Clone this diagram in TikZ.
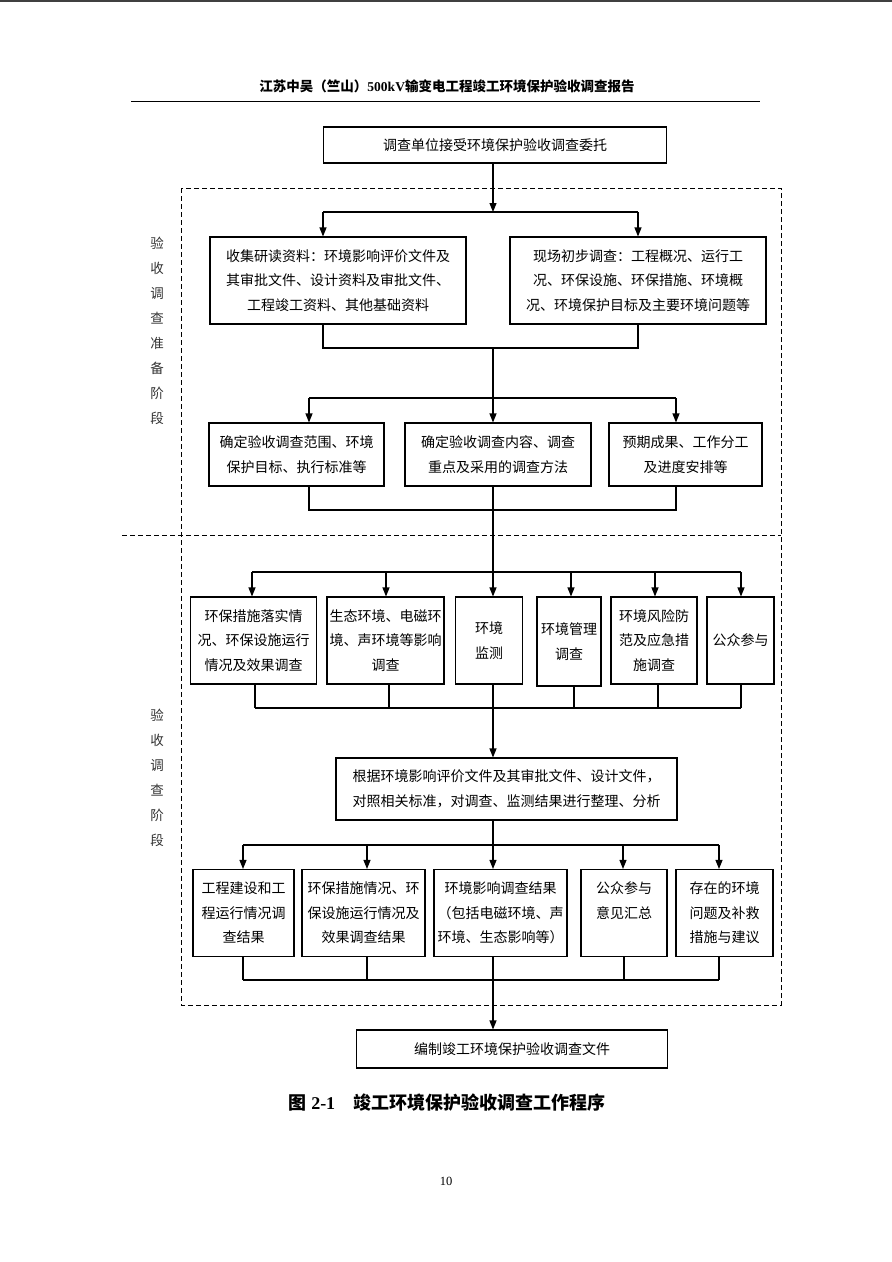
\documentclass[tikz,border=0pt]{standalone}
\usepackage{fontspec}
\setmainfont{Liberation Serif}
\newfontfamily\cjk{Noto Sans CJK SC}
\usetikzlibrary{arrows.meta}
\begin{document}
\begin{tikzpicture}[x=1pt,y=-1pt,
  box/.style={draw,line width=1.1pt,inner sep=0pt,align=center,font=\cjk\fontsize{14}{24.5}\selectfont},
  conn/.style={line width=1.1pt},
  arr/.style={conn,-{Triangle[length=9pt,width=7pt]}},
  frame/.style={line width=0.9pt,dash pattern=on 5pt off 3pt},
  side/.style={font=\cjk\fontsize{13.5}{25}\selectfont,align=center,inner sep=0pt,text=black!80}
]
\useasboundingbox (0,0) rectangle (892,1262);
\fill[white] (0,0) rectangle (892,1262);
\draw[line width=1.6pt,black!75] (0,0.8) -- (892,0.8);

% header
\node[font=\bfseries\fontsize{13.5}{15}\selectfont,inner sep=0pt] (hdr) at (447,86)
  {{\cjk 江苏中吴（竺山）}500kV{\cjk 输变电工程竣工环境保护验收调查报告}};
\draw[line width=1pt] (131,101) -- (760,101);

% frames
\draw[frame] (181,188) rectangle (781,1005);
\draw[frame] (122,535) -- (781,535);

% side labels
\node[side] (s1) at (157,331) {验\\收\\调\\查\\准\\备\\阶\\段};
\node[side] (s2) at (157,778) {验\\收\\调\\查\\阶\\段};

% boxes
\node[box,minimum width=343pt,minimum height=36pt] (b1) at (495,145) {调查单位接受环境保护验收调查委托};
\node[box,minimum width=256pt,minimum height=87pt] (b2L) at (338,280.5) {收集研读资料：环境影响评价文件及\\其审批文件、设计资料及审批文件、\\工程竣工资料、其他基础资料};
\node[box,minimum width=256pt,minimum height=87pt] (b2R) at (638,280.5) {现场初步调查：工程概况、运行工\\况、环保设施、环保措施、环境概\\况、环境保护目标及主要环境问题等};
\node[box,minimum width=175pt,minimum height=63pt] (b3a) at (296.5,454.5) {确定验收调查范围、环境\\保护目标、执行标准等};
\node[box,minimum width=186pt,minimum height=63pt] (b3b) at (498,454.5) {确定验收调查内容、调查\\重点及采用的调查方法};
\node[box,minimum width=153pt,minimum height=63pt] (b3c) at (685.5,454.5) {预期成果、工作分工\\及进度安排等};

\node[box,minimum width=126pt,minimum height=87pt] (b4a) at (253.5,640.5) {环保措施落实情\\况、环保设施运行\\情况及效果调查};
\node[box,minimum width=117pt,minimum height=87pt] (b4b) at (385.5,640.5) {生态环境、电磁环\\境、声环境等影响\\调查};
\node[box,minimum width=67pt,minimum height=87pt] (b4c) at (489,640.5) {环境\\监测};
\node[box,minimum width=64pt,minimum height=89pt] (b4d) at (569,641.5) {环境管理\\调查};
\node[box,minimum width=86pt,minimum height=87pt] (b4e) at (654,640.5) {环境风险防\\范及应急措\\施调查};
\node[box,minimum width=67pt,minimum height=87pt] (b4f) at (740.5,640.5) {公众参与};

\node[box,minimum width=341pt,minimum height=62pt] (b5) at (506.5,789) {根据环境影响评价文件及其审批文件、设计文件，\\对照相关标准，对调查、监测结果进行整理、分析};

\node[box,minimum width=101pt,minimum height=87pt] (b6a) at (243.5,913) {工程建设和工\\程运行情况调\\查结果};
\node[box,minimum width=123pt,minimum height=87pt] (b6b) at (363.5,913) {环保措施情况、环\\保设施运行情况及\\效果调查结果};
\node[box,minimum width=133pt,minimum height=87pt] (b6c) at (500.5,913) {环境影响调查结果\\（包括电磁环境、声\\环境、生态影响等）};
\node[box,minimum width=86pt,minimum height=87pt] (b6d) at (624,913) {公众参与\\意见汇总\\\phantom{意}};
\node[box,minimum width=97pt,minimum height=87pt] (b6e) at (724.5,913) {存在的环境\\问题及补救\\措施与建议};

\node[box,minimum width=311pt,minimum height=38pt] (b7) at (512,1049) {编制竣工环境保护验收调查文件};

% caption & page number
\node[font=\bfseries\fontsize{18}{21}\selectfont,inner sep=0pt] (cap) at (447,1103)
  {{\cjk 图} 2-1\hspace{1em}{\cjk 竣工环境保护验收调查工作程序}};
\node[font=\fontsize{12.5}{14}\selectfont,inner sep=0pt] (pg) at (446,1181) {10};

% junction coordinates
\coordinate (j1) at (493,212);
\coordinate (a1L) at (323,212);
\coordinate (a1R) at (638,212);
\coordinate (c2L) at (323,348);
\coordinate (c2R) at (638,348);
\coordinate (m) at (493,348);
\coordinate (j3L) at (309,398);
\coordinate (j3R) at (676,398);
\coordinate (c3L) at (309,510);
\coordinate (c3R) at (676,510);
\coordinate (j4a) at (252,572);
\coordinate (j4b) at (386,572);
\coordinate (j4d) at (571,572);
\coordinate (j4e) at (655,572);
\coordinate (j4f) at (741,572);
\coordinate (c4a) at (255,708);
\coordinate (c4b) at (389,708);
\coordinate (c4d) at (574,708);
\coordinate (c4e) at (658,708);
\coordinate (c4f) at (741,708);
\coordinate (j6a) at (243,845);
\coordinate (j6b) at (367,845);
\coordinate (j6d) at (623,845);
\coordinate (j6e) at (719,845);
\coordinate (c6a) at (243,980);
\coordinate (c6b) at (367,980);
\coordinate (c6d) at (624,980);
\coordinate (c6e) at (719,980);

% connectors
\draw[arr] (b1.south -| j1) -- (j1);
\draw[conn] (a1L) -- (a1R);
\draw[arr] (a1L) -- (a1L |- b2L.north);
\draw[arr] (a1R) -- (a1R |- b2R.north);

\draw[conn] (c2L |- b2L.south) -- (c2L) -- (c2R) -- (c2R |- b2R.south);
\draw[arr] (m) -- (m |- b3b.north);
\draw[conn] (j3L) -- (j3R);
\draw[arr] (j3L) -- (j3L |- b3a.north);
\draw[arr] (j3R) -- (j3R |- b3c.north);

\draw[conn] (c3L |- b3a.south) -- (c3L) -- (c3R) -- (c3R |- b3c.south);
\draw[arr] (m |- b3b.south) -- (m |- b4c.north);
\draw[conn] (j4a) -- (j4f);
\foreach \c/\b in {j4a/b4a,j4b/b4b,j4d/b4d,j4e/b4e,j4f/b4f}
  \draw[arr] (\c) -- (\c |- \b.north);
\draw[conn] (c4a) -- (c4f);
\foreach \c/\b in {c4a/b4a,c4b/b4b,c4d/b4d,c4e/b4e,c4f/b4f}
  \draw[conn] (\c |- \b.south) -- (\c);
\draw[arr] (m |- b4c.south) -- (m |- b5.north);

\draw[arr] (m |- b5.south) -- (m |- b6c.north);
\draw[conn] (j6a) -- (j6e);
\foreach \c/\b in {j6a/b6a,j6b/b6b,j6d/b6d,j6e/b6e}
  \draw[arr] (\c) -- (\c |- \b.north);
\draw[conn] (c6a) -- (c6e);
\foreach \c/\b in {c6a/b6a,c6b/b6b,c6d/b6d,c6e/b6e}
  \draw[conn] (\c |- \b.south) -- (\c);
\draw[arr] (m |- b6c.south) -- (m |- b7.north);
\end{tikzpicture}
\end{document}
